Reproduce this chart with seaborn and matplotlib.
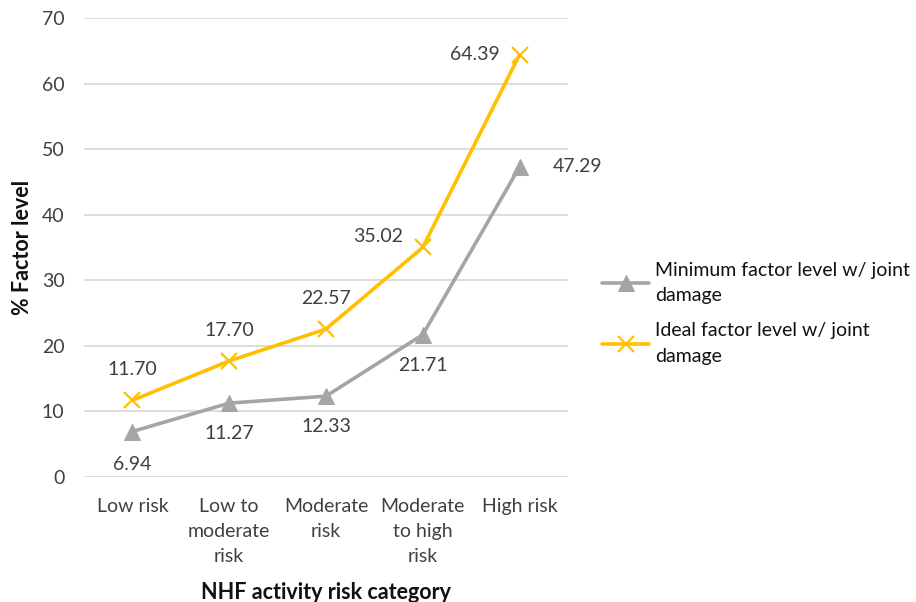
import matplotlib
matplotlib.use("Agg")
import matplotlib.pyplot as plt
import seaborn as sns
import pandas as pd

categories = ["Low risk", "Low to\nmoderate\nrisk", "Moderate\nrisk", "Moderate\nto high\nrisk", "High risk"]
minimum_values = [6.94, 11.27, 12.33, 21.71, 47.29]
ideal_values = [11.70, 17.70, 22.57, 35.02, 64.39]
series_names = ["Minimum factor level w/ joint\ndamage", "Ideal factor level w/ joint\ndamage"]
y_ticks = [0, 10, 20, 30, 40, 50, 60, 70]

sns.set_theme(style="white")
plt.rcParams["font.family"] = ["Lato", "DejaVu Sans"]

positions = list(range(len(categories)))
df_min = pd.DataFrame({"pos": positions, "value": minimum_values})
df_ideal = pd.DataFrame({"pos": positions, "value": ideal_values})

GRAY = "#A5A5A5"
GOLD = "#FFC000"
TEXT = "#404040"

fig = plt.figure(figsize=(9.16, 6.02), dpi=100)
ax = fig.add_axes([0.0917, 0.2076, 0.5283, 0.7624])

sns.lineplot(data=df_min, x="pos", y="value", color=GRAY, linewidth=2.6,
             marker="^", markersize=12, markeredgecolor=GRAY, markerfacecolor=GRAY,
             label=series_names[0], ax=ax)
sns.lineplot(data=df_ideal, x="pos", y="value", color=GOLD, linewidth=2.6,
             marker="x", markersize=11, markeredgewidth=1.6, markeredgecolor=GOLD,
             label=series_names[1], ax=ax)

ax.set_xlim(-0.5, len(categories) - 0.5)
ax.set_ylim(0, 70)
ax.set_yticks(y_ticks)
ax.set_xticks(positions)
ax.set_xticklabels(categories, fontsize=14, color=TEXT, linespacing=1.58)
ax.tick_params(axis="y", labelsize=14, labelcolor=TEXT, length=0, pad=14)
ax.tick_params(axis="x", length=0, pad=15)
ax.grid(axis="y", color="#D9D9D9", linewidth=1.3)
ax.set_axisbelow(True)
for s in ax.spines.values():
    s.set_visible(False)

ax.set_xlabel("NHF activity risk category", fontsize=15.5, fontweight="bold",
              color="#111111", labelpad=12)
ax.set_ylabel("% Factor level", fontsize=15.5, fontweight="bold", color="#111111",
              labelpad=6)

label_kw = dict(fontsize=14, color=TEXT, textcoords="offset points")
# Minimum series labels
min_offsets = [(0, -24), (0, -22), (0, -22), (0, -22), (24, 0)]
for i, (v, off) in enumerate(zip(minimum_values, min_offsets)):
    ha = "left" if off[0] > 0 else "center"
    ax.annotate(f"{v:.2f}", (i, v), xytext=off, ha=ha, va="center", **label_kw)
# Ideal series labels
ideal_offsets = [(0, 22), (0, 22), (0, 22), (-14, 8), (-14, 0)]
for i, (v, off) in enumerate(zip(ideal_values, ideal_offsets)):
    ha = "right" if off[0] < 0 else "center"
    ax.annotate(f"{v:.2f}", (i, v), xytext=off, ha=ha, va="center", **label_kw)

leg = ax.legend(loc="center left", bbox_to_anchor=(1.035, 0.357), frameon=False,
                fontsize=14, handlelength=2.4, labelspacing=0.95, handletextpad=0.3)
for t in leg.get_texts():
    t.set_color("#111111")
    t.set_linespacing(1.6)

fig.savefig("out.png", dpi=100)
